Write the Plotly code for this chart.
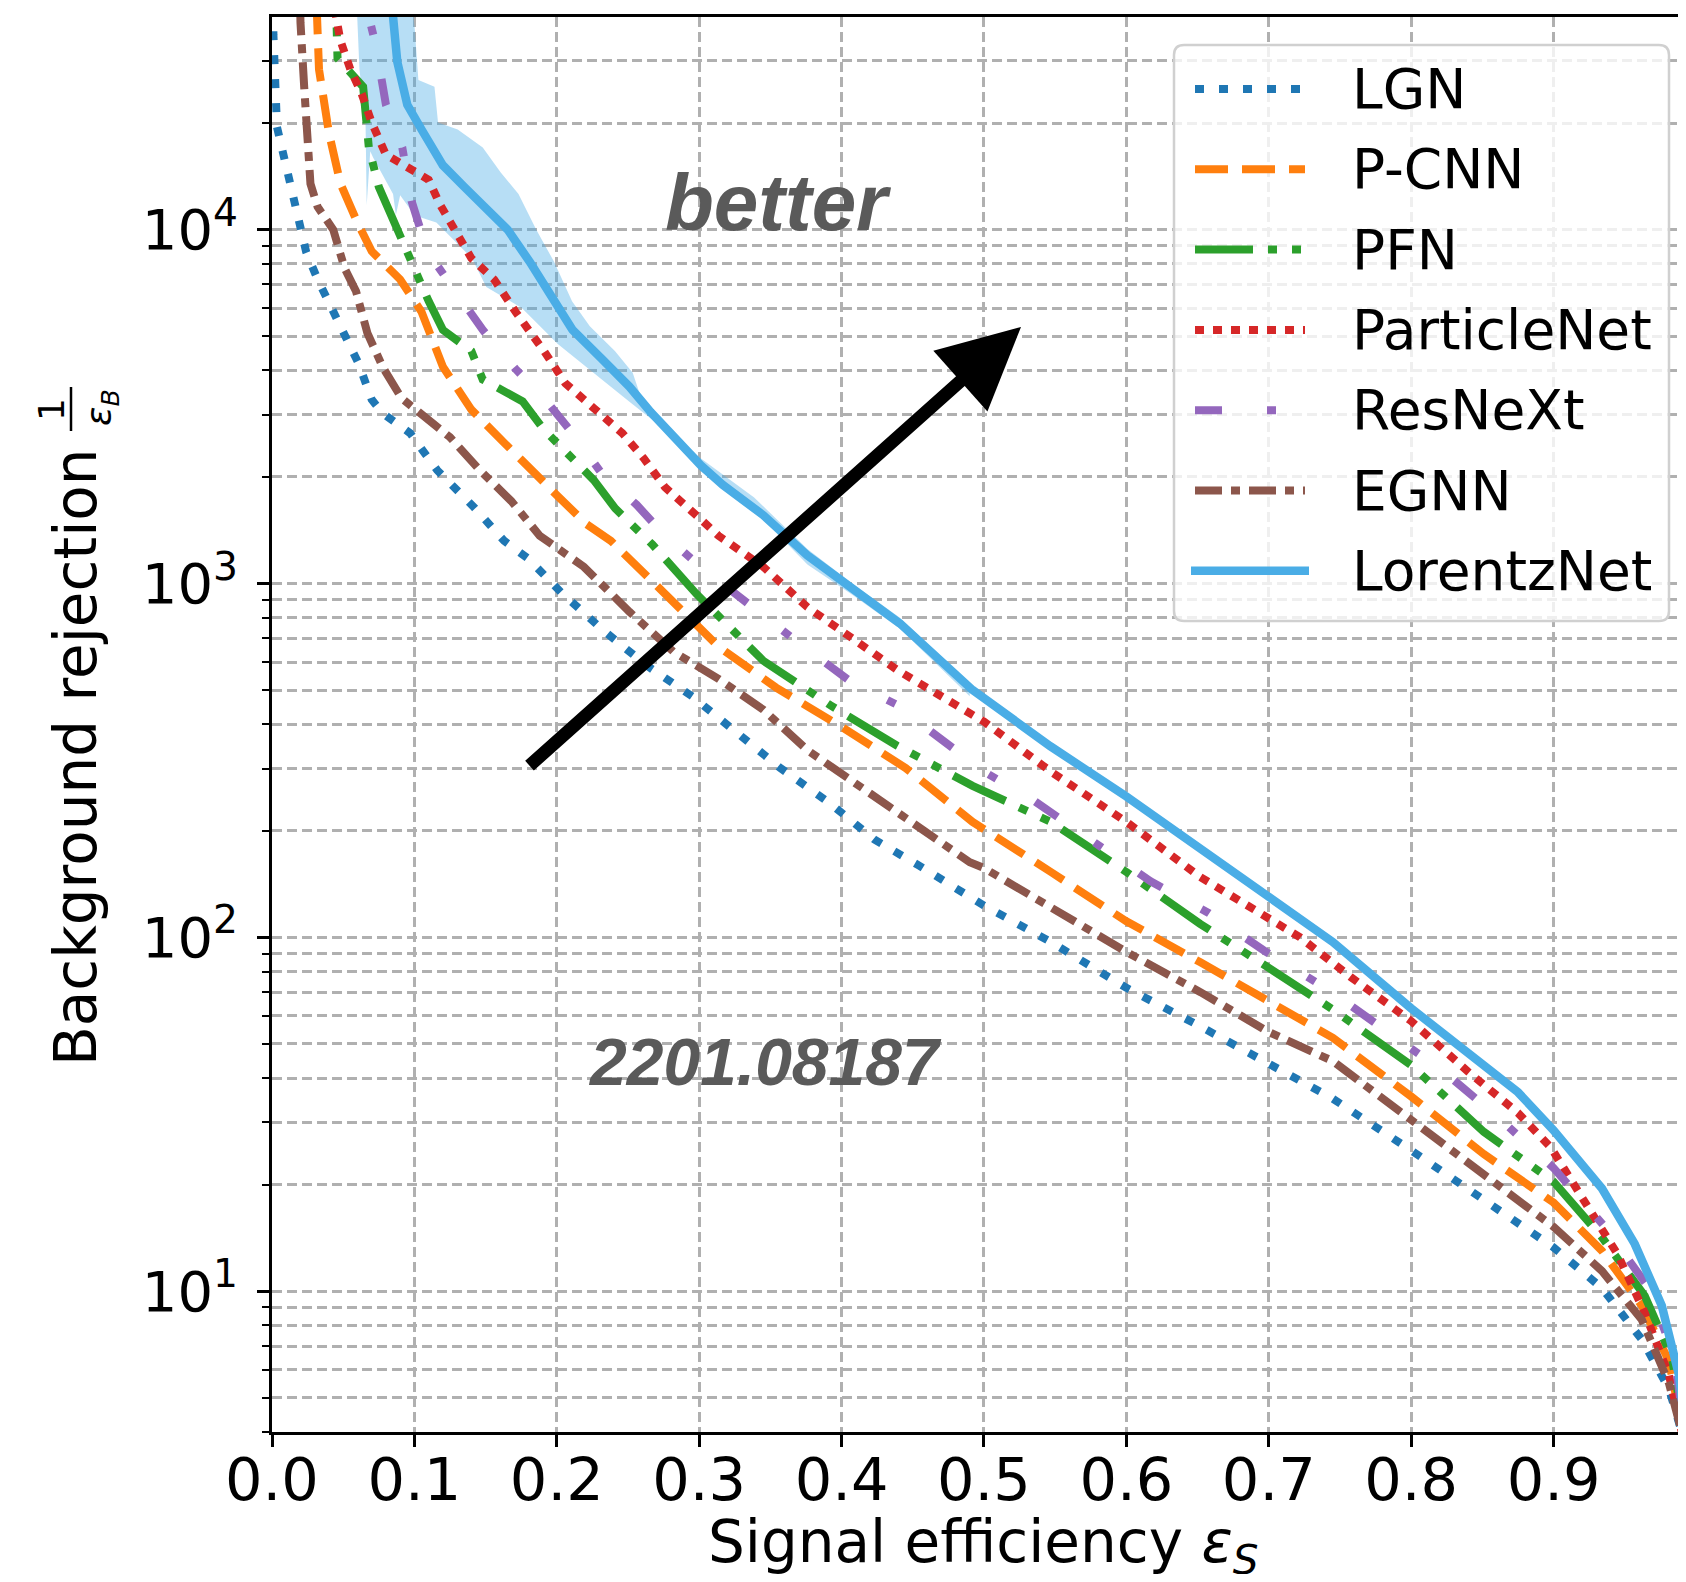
import plotly.graph_objects as go
import math

# ---------------- data ----------------
lgn_eff = [0.000, 0.001, 0.0035, 0.008, 0.011, 0.021, 0.024, 0.032, 0.045, 0.061, 0.070, 0.078, 0.097, 0.116, 0.142,
           0.163, 0.180, 0.203, 0.232, 0.263, 0.295, 0.326, 0.357, 0.392, 0.423, 0.455, 0.486, 0.500, 0.547, 0.600,
           0.652, 0.700, 0.745, 0.800, 0.851, 0.900, 0.934, 0.962, 0.981, 0.990, 1.000]
lgn_rej = [79400, 35500, 19500, 16440, 14350, 10000, 8650, 7240, 5680, 4170, 3310, 3020, 2660, 2090, 1640,
           1320, 1175, 944, 741, 587, 480, 380, 301, 239, 189, 159, 134, 123, 97, 72,
           56, 44, 35, 25, 18.2, 13.3, 10.2, 7.3, 5.3, 4.0, 1.0]

pcnn_eff = [0.030, 0.031, 0.033, 0.040, 0.048, 0.060, 0.070, 0.090, 0.105, 0.120, 0.140, 0.163, 0.181, 0.201, 0.221,
            0.238, 0.276, 0.314, 0.354, 0.401, 0.445, 0.492, 0.547, 0.600, 0.652, 0.700, 0.745, 0.800, 0.851, 0.900,
            0.934, 0.962, 0.981, 0.991, 1.000]
pcnn_rej = [60000, 40000, 28400, 18750, 13520, 10470, 8690, 7230, 5860, 4100, 3100, 2500, 2100, 1760, 1470,
            1320, 935, 661, 508, 391, 301, 212, 153, 111, 85, 66, 52, 35.5, 24.4, 17.8,
            13.0, 9.1, 6.35, 4.0, 1.0]

pfn_eff = [0.044, 0.045, 0.046, 0.064, 0.068, 0.075, 0.088, 0.100, 0.110, 0.120, 0.140, 0.148, 0.176, 0.191, 0.208,
           0.226, 0.241, 0.267, 0.298, 0.345, 0.392, 0.439, 0.492, 0.547, 0.600, 0.652, 0.700, 0.745, 0.800, 0.851,
           0.900, 0.934, 0.964, 0.983, 0.992, 1.000]
pfn_rej = [60000, 40000, 30500, 25350, 17060, 13210, 10000, 7930, 6280, 5210, 4540, 3770, 3270, 2720, 2310,
           1960, 1630, 1290, 935, 605, 453, 348, 268, 212, 153, 109, 82, 62.5, 43.5, 28.2,
           20.4, 14.2, 9.7, 6.5, 4.0, 1.0]

pnet_eff = [0.044, 0.045, 0.048, 0.055, 0.063, 0.070, 0.080, 0.093, 0.110, 0.118, 0.128, 0.140, 0.156, 0.171, 0.191,
            0.206, 0.226, 0.246, 0.261, 0.276, 0.301, 0.3135, 0.345, 0.376, 0.4075, 0.439, 0.470, 0.500, 0.547, 0.600,
            0.652, 0.700, 0.722, 0.758, 0.800, 0.840, 0.875, 0.898, 0.922, 0.945, 0.964, 0.981, 0.990, 1.000]
pnet_rej = [60000, 40000, 34300, 28400, 24200, 20100, 16300, 15200, 13840, 11780, 10000, 8300, 7230, 5860, 4540,
            3680, 3130, 2660, 2260, 1870, 1520, 1365, 1115, 857, 700, 570, 480, 407, 294, 212,
            148, 114, 100, 77, 58, 41.7, 31.9, 25.5, 17.8, 12.7, 8.7, 5.8, 4.0, 1.0]

resnext_eff = [0.066, 0.068, 0.0727, 0.078, 0.080, 0.0915, 0.098, 0.109, 0.128, 0.148, 0.171, 0.193, 0.211, 0.231,
               0.256, 0.276, 0.301, 0.329, 0.370, 0.4075, 0.441, 0.455, 0.500, 0.536, 0.578, 0.617, 0.658, 0.698,
               0.741, 0.781, 0.823, 0.863, 0.900, 0.936, 0.967, 0.985, 0.992, 1.000]
resnext_rej = [60000, 40000, 33500, 25350, 22540, 17060, 12050, 8690, 6730, 5210, 4040, 3270, 2660, 2060,
               1670, 1365, 1115, 908, 679, 524, 450, 403, 294, 242, 186, 144, 117, 91,
               71.5, 54.6, 41.7, 30.5, 22.3, 15.2, 10.2, 6.5, 4.0, 1.0]

egnn_eff = [0.019, 0.020, 0.0226, 0.025, 0.027, 0.032, 0.043, 0.051, 0.059, 0.067, 0.078, 0.091, 0.105, 0.125, 0.1455,
            0.168, 0.188, 0.219, 0.251, 0.282, 0.3135, 0.345, 0.376, 0.4075, 0.439, 0.490, 0.500, 0.547, 0.600, 0.652,
            0.700, 0.745, 0.800, 0.851, 0.900, 0.934, 0.962, 0.981, 0.990, 1.000]
egnn_rej = [60000, 38500, 25350, 16440, 13490, 11610, 10000, 7780, 6700, 5100, 4070, 3340, 3000, 2590, 2100,
            1710, 1365, 1115, 832, 641, 538, 440, 338, 276, 225, 163, 157, 122, 91, 70,
            54, 44.7, 30.5, 21.3, 15.2, 11.4, 8.3, 5.5, 4.0, 1.0]

lorentz_eff = [0.084, 0.085, 0.088, 0.095, 0.105, 0.115, 0.120, 0.135, 0.150, 0.1655, 0.181, 0.196, 0.211, 0.231,
               0.251, 0.266, 0.301, 0.3166, 0.345, 0.376, 0.4075, 0.441, 0.492, 0.5465, 0.600, 0.652, 0.700, 0.745,
               0.800, 0.840, 0.875, 0.900, 0.934, 0.957, 0.976, 0.988, 0.993, 1.000]
lorentz_rej = [60000, 40000, 29800, 22540, 19190, 16670, 15200, 13210, 11510, 10000, 8110, 6580, 5210, 4340,
               3600, 3050, 2160, 1900, 1560, 1200, 964, 771, 500, 347, 250, 178, 131, 97,
               63, 47.5, 36.5, 28.5, 19.5, 13.6, 9.1, 5.8, 4.0, 1.0]

# LorentzNet uncertainty band (upper / lower edges)
band_up_eff = [0.0953, 0.1003, 0.1028, 0.1141, 0.1166, 0.1304, 0.148, 0.1605, 0.1731, 0.1856, 0.1981, 0.2107, 0.2232,
               0.2408, 0.2533, 0.2583, 0.2709, 0.301, 0.3386, 0.3762, 0.4075, 0.441, 0.49]
band_up_rej = [60000, 36700, 26500, 25350, 20100, 19190, 17060, 14520, 12620, 10000, 8110, 6280, 5330,
               4540, 3940, 3430, 2920, 2260, 1750, 1250, 1000, 800, 520]
band_lo_eff = [0.058, 0.0614, 0.0657, 0.0665, 0.069, 0.071, 0.085, 0.087, 0.090, 0.1003, 0.1154, 0.1404, 0.1505,
               0.1756, 0.2007, 0.2257, 0.2508, 0.2759, 0.301, 0.3386, 0.3762, 0.4075, 0.441, 0.49]
band_lo_rej = [60000, 28400, 20100, 11750, 16670, 16000, 12620, 11000, 12500, 10960, 10470, 8300, 6890,
               6000, 4750, 3940, 3270, 2720, 2080, 1610, 1130, 930, 745, 480]

model_names = ["LGN", "P-CNN", "PFN", "ParticleNet", "ResNeXt", "EGNN", "LorentzNet"]
model_eff = [lgn_eff, pcnn_eff, pfn_eff, pnet_eff, resnext_eff, egnn_eff, lorentz_eff]
model_rej = [lgn_rej, pcnn_rej, pfn_rej, pnet_rej, resnext_rej, egnn_rej, lorentz_rej]
model_colors = ["#1f77b4", "#ff7f0e", "#2ca02c", "#d62728", "#9467bd", "#8c564b", "#4aade6"]
model_dash = ["9px,15px", "33px,14px", "58px,15px,9px,15px,9px,15px", "9px,9px",
              "27px,45px,9px,45px", "27px,9px,9px,9px", "solid"]

x_tick_vals = [0.0, 0.1, 0.2, 0.3, 0.4, 0.5, 0.6, 0.7, 0.8, 0.9]
x_tick_text = ["0.0", "0.1", "0.2", "0.3", "0.4", "0.5", "0.6", "0.7", "0.8", "0.9"]
y_tick_vals = [10, 100, 1000, 10000]
y_tick_text = ["10<sup>1</sup>", "10<sup>2</sup>", "10<sup>3</sup>", "10<sup>4</sup>"]

# ---------------- layout geometry ----------------
# the page body has an 8px margin, so the figure starts at page (8, 8)
OFF = 8
W, H = 1686 - OFF, 1582 - 2 * OFF
PL, PT, PB = 272, 17, 1432          # plot box in page pixels (right edge = page edge)
ML, MT = PL - OFF, PT - OFF
MB = H - (PB - OFF)
MR = 0
PW = W - ML - MR
PH = H - MT - MB
X_RANGE = [0.0, 0.993]
Y_RANGE = [math.log10(4.0), 4.601]


def px(X):
    return (X - PL) / PW


def py(Y):
    return (PB - Y) / PH


FONT = "DejaVu Sans"
GRID = "#b0b0b0"

fig = go.Figure()

# band
fig.add_trace(go.Scatter(
    x=band_up_eff + band_lo_eff[::-1],
    y=band_up_rej + band_lo_rej[::-1],
    mode="lines", fill="toself", fillcolor="rgba(74,173,230,0.40)",
    line=dict(width=0), hoverinfo="skip", showlegend=False))

for name, ex, ry, col, dash in zip(model_names, model_eff, model_rej, model_colors, model_dash):
    fig.add_trace(go.Scatter(
        x=ex, y=ry, mode="lines", name=name,
        line=dict(color=col, width=8.5 if name == "LorentzNet" else 8, dash=dash),
        showlegend=False))

minor_vals = []
for dec in [1, 10, 100, 1000, 10000]:
    for m in range(2, 10):
        v = m * dec
        if 4 <= v <= 40000:
            minor_vals.append(v)

fig.update_layout(
    template="none",
    width=W, height=H,
    margin=dict(l=ML, r=MR, t=MT, b=MB, pad=0, autoexpand=False),
    paper_bgcolor="white", plot_bgcolor="white",
    font=dict(family=FONT, color="black"),
    showlegend=False,
    xaxis=dict(
        automargin=False,
        range=X_RANGE, tickmode="array", tickvals=x_tick_vals, ticktext=x_tick_text,
        tickfont=dict(family=FONT, size=59, color="black"),
        ticks="outside", ticklen=12, tickwidth=2.5, tickcolor="black",
        showline=True, linecolor="black", linewidth=2.5, mirror=True,
        showgrid=True, gridcolor=GRID, gridwidth=2.5, griddash="10px,5px",
        zeroline=False, ticklabelstandoff=-18),
    yaxis=dict(
        automargin=False,
        type="log", range=Y_RANGE, tickmode="array", tickvals=y_tick_vals, ticktext=y_tick_text,
        tickfont=dict(family=FONT, size=56, color="black"),
        ticks="outside", ticklen=12, tickwidth=2.5, tickcolor="black",
        showline=True, linecolor="black", linewidth=2.5, mirror=False,
        showgrid=True, gridcolor=GRID, gridwidth=2.5, griddash="10px,5px",
        zeroline=False, ticklabelstandoff=8,
        minor=dict(tickmode="array", tickvals=minor_vals, ticks="outside", ticklen=7,
                   tickwidth=2, tickcolor="black", showgrid=True, gridcolor=GRID,
                   gridwidth=2.5, griddash="10px,5px")),
)

annotations = []
shapes = []

# axis titles
annotations.append(dict(text="Signal efficiency <i>ε</i><sub><i>S</i></sub>", xref="paper", yref="paper",
                        x=px(984), y=py(1546), xanchor="center", yanchor="middle", showarrow=False,
                        font=dict(family=FONT, size=58, color="black")))
annotations.append(dict(text="Background rejection", xref="paper", yref="paper", textangle=-90,
                        x=px(76), y=py(757), xanchor="center", yanchor="middle", showarrow=False,
                        font=dict(family=FONT, size=58, color="black")))
annotations.append(dict(text="1", xref="paper", yref="paper", textangle=-90,
                        x=px(52), y=py(410), xanchor="center", yanchor="middle", showarrow=False,
                        font=dict(family=FONT, size=36, color="black")))
annotations.append(dict(text="<i>ε</i><sub><i>B</i></sub>", xref="paper", yref="paper", textangle=-90,
                        x=px(101), y=py(408), xanchor="center", yanchor="middle", showarrow=False,
                        font=dict(family=FONT, size=36, color="black")))
shapes.append(dict(type="line", xref="paper", yref="paper", x0=px(71), x1=px(71), y0=py(387), y1=py(431),
                   line=dict(color="black", width=2.5)))

# watermark texts
annotations.append(dict(text="<b><i>better</i></b>", xref="paper", yref="paper", x=px(778), y=py(202),
                        xanchor="center", yanchor="middle", showarrow=False,
                        font=dict(family="Liberation Sans", size=80, color="#5a5a5a")))
annotations.append(dict(text="<b><i>2201.08187</i></b>", xref="paper", yref="paper", x=px(765), y=py(1062),
                        xanchor="center", yanchor="middle", showarrow=False,
                        font=dict(family="Liberation Sans", size=66, color="#5a5a5a")))

# arrow
annotations.append(dict(text="", xref="paper", yref="paper", x=px(1021), y=py(327),
                        ax=528 - 1021, ay=767 - 327, axref="pixel", ayref="pixel",
                        showarrow=True, arrowhead=2, arrowsize=1.25, arrowwidth=13,
                        arrowcolor="black", standoff=0))

# legend box (rounded)
bx0, bx1, by0, by1 = 1174, 1669, 45, 621
r = 10
path = (f"M {px(bx0 + r)},{py(by0)} L {px(bx1 - r)},{py(by0)} "
        f"Q {px(bx1)},{py(by0)} {px(bx1)},{py(by0 + r)} L {px(bx1)},{py(by1 - r)} "
        f"Q {px(bx1)},{py(by1)} {px(bx1 - r)},{py(by1)} L {px(bx0 + r)},{py(by1)} "
        f"Q {px(bx0)},{py(by1)} {px(bx0)},{py(by1 - r)} L {px(bx0)},{py(by0 + r)} "
        f"Q {px(bx0)},{py(by0)} {px(bx0 + r)},{py(by0)} Z")
shapes.append(dict(type="path", xref="paper", yref="paper", path=path,
                   fillcolor="rgba(255,255,255,0.8)", line=dict(color="#d0d0d0", width=2.5), layer="above"))

row0, row_step = 89, 80.3
for i, (name, col, dash) in enumerate(zip(model_names, model_colors, model_dash)):
    yr = row0 + i * row_step
    x_start, x_end = (1191, 1309) if name == "LorentzNet" else (1195, 1305)
    shapes.append(dict(type="line", xref="paper", yref="paper", x0=px(x_start), x1=px(x_end),
                       y0=py(yr), y1=py(yr), layer="above",
                       line=dict(color=col, width=8.5 if name == "LorentzNet" else 8, dash=dash)))
    annotations.append(dict(text=name, xref="paper", yref="paper", x=px(1350), y=py(yr),
                            xanchor="left", yanchor="middle", showarrow=False,
                            font=dict(family=FONT, size=55, color="black")))

fig.update_layout(annotations=annotations, shapes=shapes)

fig.write_html("out.html")
